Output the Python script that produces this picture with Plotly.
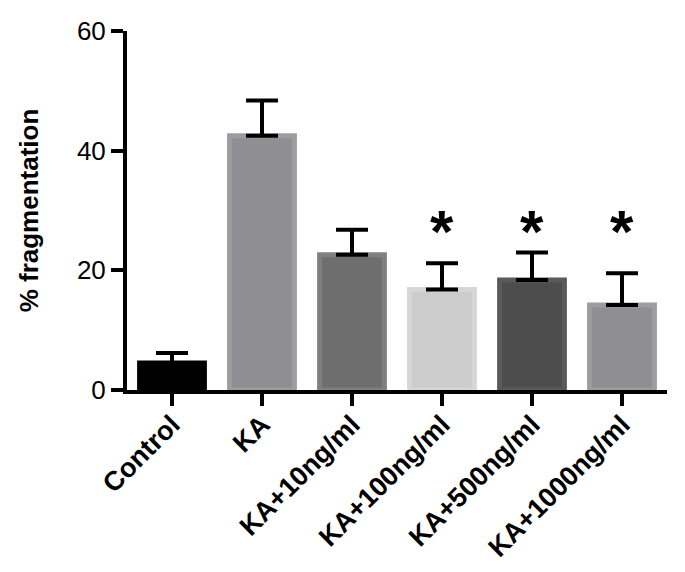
import plotly.graph_objects as go

groups = ["Control", "KA", "KA+10ng/ml", "KA+100ng/ml", "KA+500ng/ml", "KA+1000ng/ml"]
mean_frag = [4.5, 42.5, 22.6, 16.8, 18.4, 14.2]
sem_frag = [1.7, 5.9, 4.2, 4.4, 4.6, 5.3]
significant = [False, False, False, True, True, True]

fill_cols = ["#000000", "#8f8e93", "#6e6e6e", "#cccccc", "#4d4d4d", "#8f8e93"]
edge_cols = ["#000000", "#9d9ca1", "#808080", "#d6d6d6", "#5a5a5a", "#9d9ca1"]

FONT = "Liberation Sans, Arial, sans-serif"

fig = go.Figure()
fig.add_trace(go.Bar(
    x=groups, y=mean_frag, width=0.72,
    marker=dict(color=fill_cols, line=dict(color=edge_cols, width=5)),
    error_y=dict(type="data", array=sem_frag, arrayminus=[0] * len(groups),
                 symmetric=False, color="#000000", thickness=4, width=16),
    showlegend=False,
))

# significance stars
for g, s in zip(groups, significant):
    if s:
        fig.add_annotation(x=g, y=28.4, text="<b>*</b>", showarrow=False,
                           font=dict(family=FONT, size=60, color="#000000"),
                           yanchor="middle", yshift=-11)

# page body has an 8px margin, so the figure is sized to fit the window
fig.update_layout(
    width=677, height=564,
    paper_bgcolor="white", plot_bgcolor="white",
    margin=dict(l=119, r=18, t=23, b=182),
    font=dict(family=FONT, color="#000000"),
)
fig.update_xaxes(
    range=[-0.5, 5.5], showgrid=False, zeroline=False, automargin=False,
    showline=True, linecolor="#000000", linewidth=4,
    ticks="outside", ticklen=12, tickwidth=4, tickcolor="#000000",
    tickangle=-45, tickfont=dict(family=FONT, size=27, color="#000000"),
    tickprefix="<b>", ticksuffix="</b>", ticklabelstandoff=-8,
)
fig.update_yaxes(
    range=[0, 60], tickvals=[0, 20, 40, 60], showgrid=False, zeroline=False, automargin=False,
    showline=True, linecolor="#000000", linewidth=4,
    ticks="outside", ticklen=12, tickwidth=4, tickcolor="#000000",
    tickfont=dict(family=FONT, size=26, color="#000000"),
    tickprefix="<b>", ticksuffix="</b>",
    title=dict(text="<b>% fragmentation</b>", font=dict(family=FONT, size=26, color="#000000"),
               standoff=32),
)

fig.write_html("out.html")
